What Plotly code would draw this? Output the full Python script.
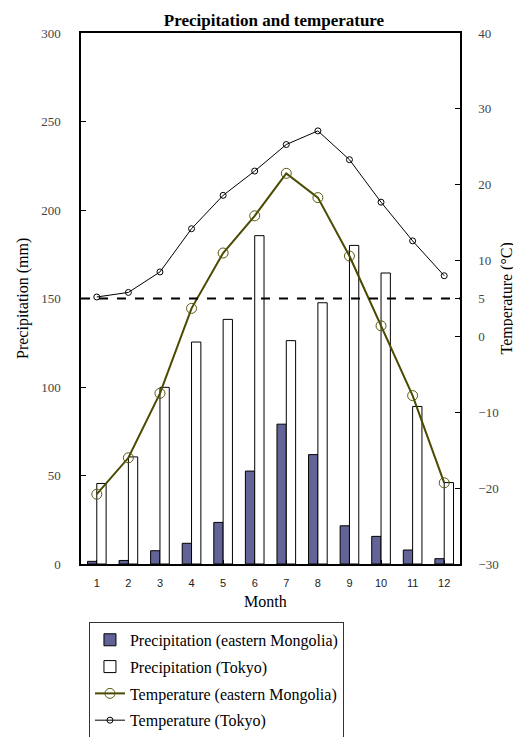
import plotly.graph_objects as go

months = [1, 2, 3, 4, 5, 6, 7, 8, 9, 10, 11, 12]
month_labels = [str(m) for m in months]
precip_mongolia = [1.5, 2.0, 7.5, 11.7, 23.5, 52.5, 79.0, 61.8, 21.6, 15.6, 7.9, 3.0]
precip_tokyo = [45.5, 60.5, 99.8, 125.4, 138.2, 185.5, 126.2, 147.6, 180.0, 164.4, 89.0, 46.0]
temp_mongolia = [-20.8, -16.0, -7.5, 3.7, 11.0, 15.9, 21.5, 18.3, 10.6, 1.4, -7.8, -19.3]
temp_tokyo = [5.2, 5.8, 8.5, 14.2, 18.6, 21.8, 25.3, 27.1, 23.3, 17.7, 12.6, 8.0]
left_ticks = [0, 50, 100, 150, 200, 250, 300]
right_ticks = [-30, -20, -10, 0, 5, 10, 20, 30, 40]
threshold_mm = 150

serif = "Liberation Serif, Times New Roman, serif"
sans = "Liberation Sans, Arial, sans-serif"

fig = go.Figure()
fig.add_trace(go.Bar(
    x=months, y=precip_mongolia, name="Precipitation (eastern Mongolia)",
    marker=dict(color="#626498", line=dict(color="black", width=1)),
    legendgroup="a", yaxis="y",
))
fig.add_trace(go.Bar(
    x=months, y=precip_tokyo, name="Precipitation (Tokyo)",
    marker=dict(color="white", line=dict(color="black", width=1)),
    legendgroup="b", yaxis="y",
))
fig.add_trace(go.Scatter(
    x=months, y=temp_mongolia, name="Temperature (eastern Mongolia)",
    mode="lines+markers", yaxis="y2", legendgroup="c",
    line=dict(color="#4a4a00", width=2),
    marker=dict(symbol="circle-open", size=10, color="#5a5a10", line=dict(width=1)),
))
fig.add_trace(go.Scatter(
    x=months, y=temp_tokyo, name="Temperature (Tokyo)",
    mode="lines+markers", yaxis="y2", legendgroup="d",
    line=dict(color="black", width=1),
    marker=dict(symbol="circle-open", size=6, color="black", line=dict(width=1)),
))

fig.add_shape(type="line", xref="paper", x0=0, x1=1, yref="y", y0=threshold_mm, y1=threshold_mm,
              line=dict(color="black", width=2, dash="dash"), layer="above")

title_font = dict(family=serif, size=16, color="black")
fig.add_annotation(text="Precipitation (mm)", textangle=-90, xref="paper", yref="paper",
                   x=-0.1544, y=0.5, xanchor="center", yanchor="middle", showarrow=False, font=title_font)
fig.add_annotation(text="Temperature (°C)", textangle=-90, xref="paper", yref="paper",
                   x=1.124, y=0.5, xanchor="center", yanchor="middle", showarrow=False, font=title_font)
fig.add_annotation(text="Month", xref="paper", yref="paper",
                   x=0.4855, y=-0.0697, xanchor="center", yanchor="middle", showarrow=False, font=title_font)

fig.update_layout(
    template="none",
    width=513, height=729,
    margin=dict(l=73, r=61, t=25, b=173, autoexpand=False),
    paper_bgcolor="white", plot_bgcolor="white",
    barmode="group", bargap=0.41, bargroupgap=0,
    title=dict(text="<b>Precipitation and temperature</b>", x=0.5185, xanchor="center",
               y=0.9835, yanchor="middle", font=dict(family=serif, size=17, color="black")),
    font=dict(family=serif, color="black"),
    xaxis=dict(
        tickmode="array", tickvals=months, ticktext=month_labels, automargin=False,
        range=[0.5, 12.5], showline=True, linecolor="black", linewidth=1.5, mirror=True,
        ticks="inside", tickson="boundaries", ticklen=4, tickcolor="black", ticklabelstandoff=8,
        tickfont=dict(family=sans, size=11, color="#222222"),
        showgrid=False, zeroline=False,
    ),
    yaxis=dict(
        range=[0, 300], tickvals=left_ticks, showline=True, linecolor="black", linewidth=1.5,
        ticks="inside", ticklen=5, tickcolor="black", ticklabelstandoff=16, automargin=False,
        tickfont=dict(family=serif, size=13, color="#444444"),
        showgrid=False, zeroline=False,
    ),
    yaxis2=dict(
        range=[-30, 40], tickvals=right_ticks, overlaying="y", side="right", automargin=False,
        showline=True, linecolor="black", linewidth=1.5,
        ticks="inside", ticklen=5, tickcolor="black", ticklabelstandoff=14,
        tickfont=dict(family=serif, size=13, color="#444444"),
        showgrid=False, zeroline=False,
    ),
    legend=dict(
        x=0.021, xanchor="left", y=-0.109, yanchor="top",
        bgcolor="white", bordercolor="#333333", borderwidth=1,
        font=dict(family=serif, size=16, color="black"),
        tracegroupgap=3, traceorder="grouped",
    ),
    showlegend=True,
)

fig.write_html("out.html")
